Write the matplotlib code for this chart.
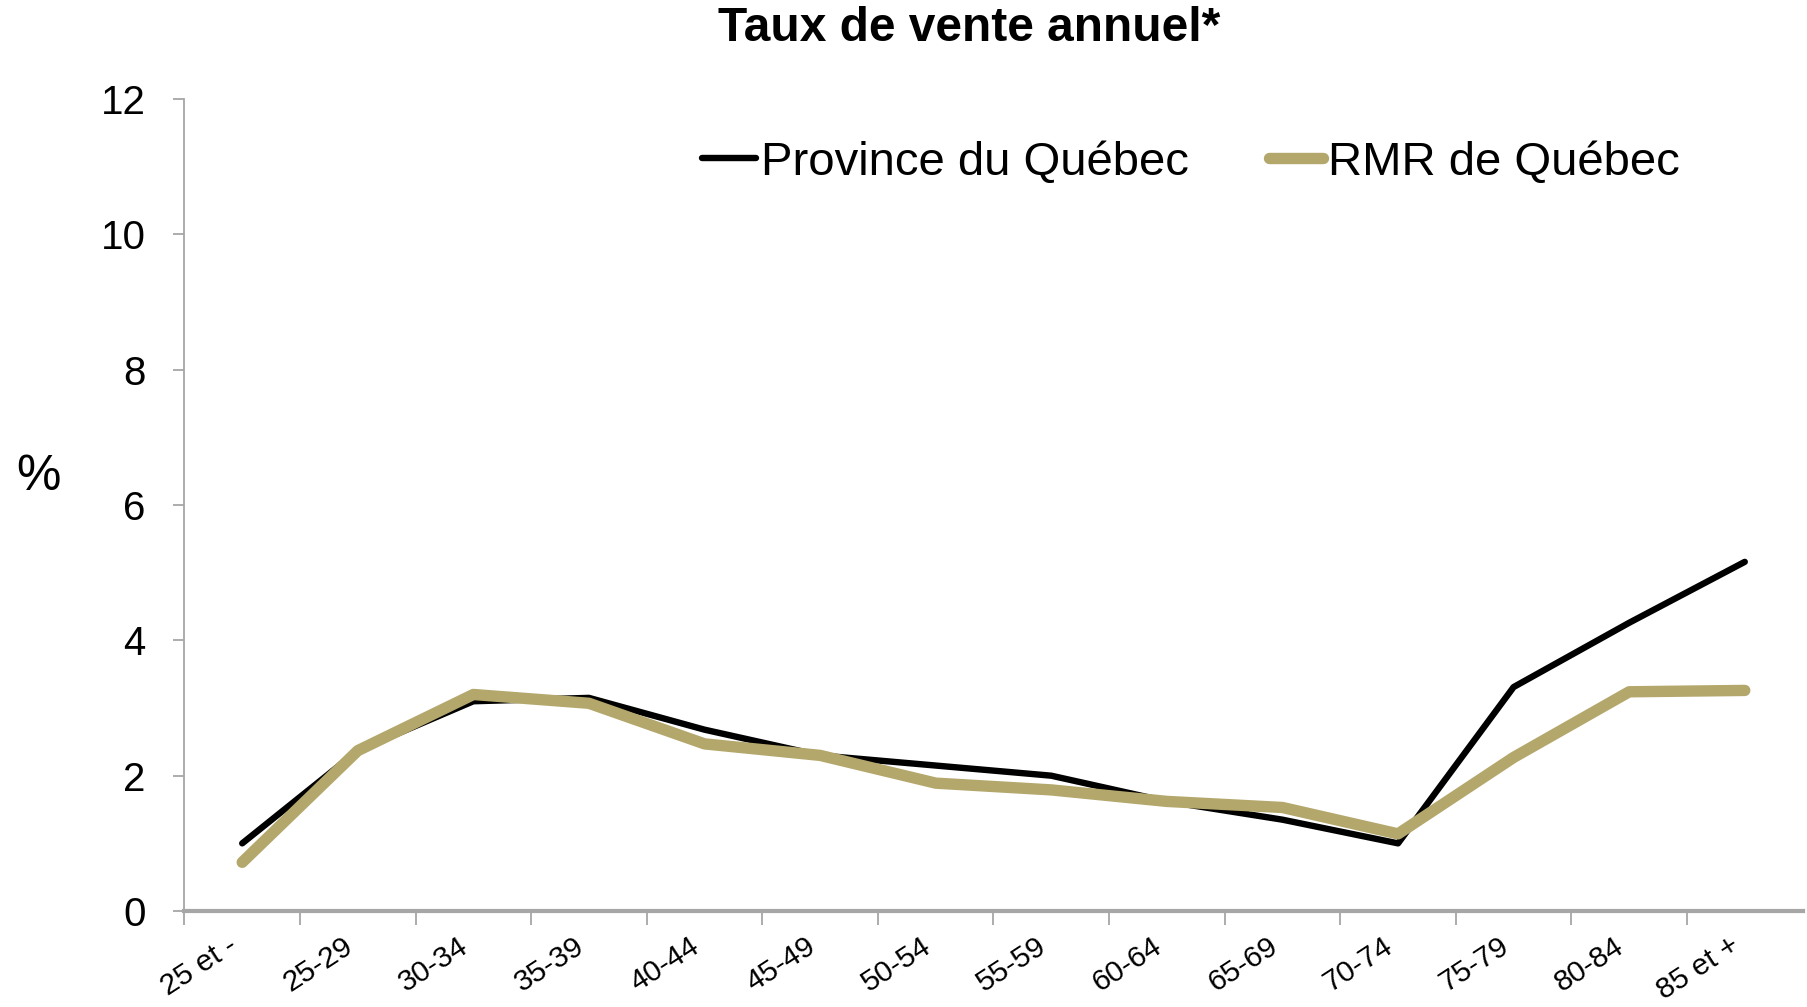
import matplotlib
matplotlib.use("Agg")
import matplotlib.pyplot as plt
import numpy as np

# ---------------------------------------------------------------------------
# Data
# ---------------------------------------------------------------------------
age_groups = ["25 et -", "25-29", "30-34", "35-39", "40-44", "45-49", "50-54",
              "55-59", "60-64", "65-69", "70-74", "75-79", "80-84", "85 et +"]
province_qc = [1.00, 2.37, 3.10, 3.15, 2.68, 2.30, 2.15, 2.00, 1.62, 1.35,
               1.00, 3.31, 4.26, 5.16]
rmr_qc = [0.72, 2.37, 3.20, 3.07, 2.47, 2.30, 1.89, 1.79, 1.62, 1.53,
          1.14, 2.27, 3.24, 3.26]
y_ticks = [0, 2, 4, 6, 8, 10, 12]

BLACK = "#000000"
GOLD = "#b4a76c"
AXIS_GRAY = "#a6a6a6"

plt.rcParams["font.family"] = ["Liberation Sans", "DejaVu Sans"]

fig = plt.figure(figsize=(18.08, 10.07), dpi=100)
ax = fig.add_axes([0.102, 0.0953, 0.895, 0.8064])

x = np.arange(len(age_groups))
ax.plot(x, province_qc, color=BLACK, linewidth=4.6, solid_capstyle="round",
        solid_joinstyle="round", label="Province du Québec", zorder=3)
ax.plot(x, rmr_qc, color=GOLD, linewidth=8.2, solid_capstyle="round",
        solid_joinstyle="round", label="RMR de Québec", zorder=4)

# axes
ax.set_xlim(-0.5, len(age_groups) - 0.5)
ax.set_ylim(0, 12)
ax.set_yticks(y_ticks)
ax.set_yticklabels([str(v) for v in y_ticks], fontsize=29)

ax.set_xticks(np.arange(-0.5, len(age_groups) - 0.5, 1.0))
ax.set_xticklabels([])
ax.set_xticks(x, age_groups, minor=True)
for lbl in ax.get_xticklabels(minor=True):
    lbl.set_rotation(33)
    lbl.set_ha("right")
    lbl.set_fontsize(21.5)

ax.tick_params(axis="x", which="major", length=10, width=1.3, color=AXIS_GRAY,
               direction="out")
ax.tick_params(axis="x", which="minor", length=0, pad=15)
ax.tick_params(axis="y", length=8, width=1.3, color=AXIS_GRAY, pad=20)

for side in ("top", "right"):
    ax.spines[side].set_visible(False)
ax.spines["left"].set_color(AXIS_GRAY)
ax.spines["left"].set_linewidth(1.3)
ax.spines["bottom"].set_color(AXIS_GRAY)
ax.spines["bottom"].set_linewidth(3)

ax.set_ylabel("%", rotation=0, fontsize=36, va="center", ha="center")
ax.yaxis.set_label_coords(-0.09, 0.535)

fig.suptitle("Taux de vente annuel*", fontsize=34.5, fontweight="bold",
             x=0.536, y=0.972, va="center")

fig.legend(loc="center left", bbox_to_anchor=(0.388, 1 - 163 / 1007),
           ncol=2, frameon=False, fontsize=34, handlelength=1.15,
           handletextpad=0.1, columnspacing=1.7, borderpad=0,
           borderaxespad=0)

fig.savefig("out.png", dpi=100)
